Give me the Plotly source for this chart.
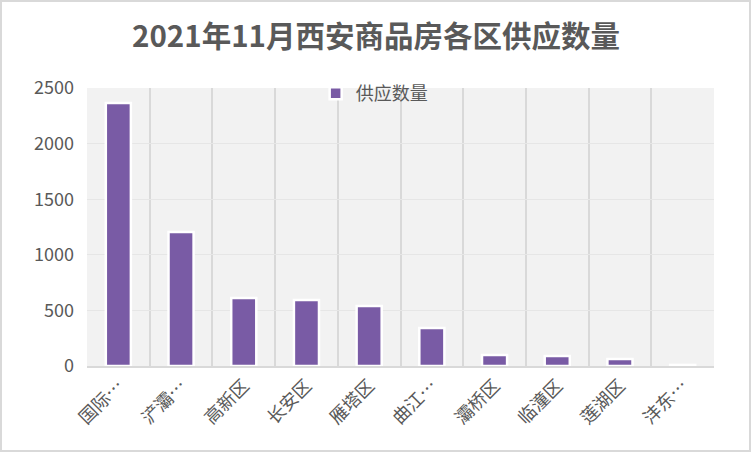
import plotly.graph_objects as go

title_text = "2021年11月西安商品房各区供应数量"
series_name = "供应数量"
districts = ["国际…", "浐灞…", "高新区", "长安区", "雁塔区", "曲江…", "灞桥区", "临潼区", "莲湖区", "沣东…"]
supply = [2365, 1205, 611, 594, 540, 342, 99, 90, 63, 10]
y_ticks = [0, 500, 1000, 1500, 2000, 2500]

FONT = "Microsoft YaHei, Noto Sans CJK SC, sans-serif"
TXT = "#595959"

fig = go.Figure()
fig.add_trace(go.Bar(
    x=districts, y=supply, name=series_name,
    marker=dict(color="#795ba5", line=dict(color="#ffffff", width=2.5)),
    width=0.4, showlegend=True,
))

W, H = 752, 465
L, R, T, B = 87, 38, 88, 99
pw, ph = W - L - R, H - T - B

fig.update_layout(
    width=W, height=H,
    margin=dict(l=L, r=R, t=T, b=B),
    paper_bgcolor="#ffffff", plot_bgcolor="#f2f2f2",
    font=dict(family=FONT, size=18, color=TXT),
    title=dict(text="<b>" + title_text + "</b>", x=0.5, xanchor="center",
               y=1 - 37 / H, yanchor="middle",
               font=dict(family=FONT, size=29.5, color=TXT)),
    showlegend=True,
    legend=dict(orientation="h", x=0.458, xanchor="center", y=(H - B - 75) / ph,
                yanchor="top", bgcolor="rgba(0,0,0,0)",
                font=dict(family=FONT, size=18, color=TXT),
                itemwidth=30),
    xaxis=dict(type="category", tickson="boundaries", showgrid=True,
               gridcolor="#d9d9d9", gridwidth=2, ticks="", tickangle=-45,
               showline=True, linecolor="#d9d9d9", linewidth=2,
               tickfont=dict(family=FONT, size=18, color=TXT)),
    yaxis=dict(range=[0, 2500], tickvals=y_ticks, showgrid=True,
               gridcolor="#e6e6e6", gridwidth=1, zeroline=False,
               showline=False, ticks="", ticklabelstandoff=12,
               tickfont=dict(family=FONT, size=18, color=TXT)),
    shapes=[dict(type="rect", xref="paper", yref="paper",
                 x0=(1 - L) / pw, x1=(750 - L) / pw,
                 y0=(H - B - 451) / ph, y1=(H - B - 1) / ph,
                 line=dict(color="#d9d9d9", width=2), fillcolor="rgba(0,0,0,0)",
                 layer="below")],
)

fig.write_html("out.html")
